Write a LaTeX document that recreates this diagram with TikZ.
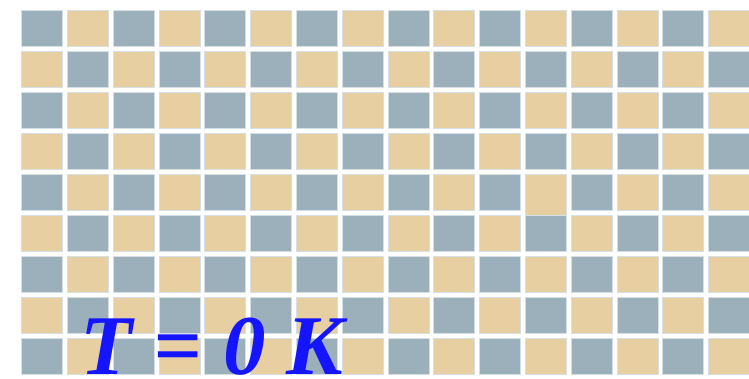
\documentclass[tikz,border=0pt]{standalone}
\usepackage{fontspec}
\setmainfont{Liberation Serif}
\definecolor{tilegray}{HTML}{9CB0BB}
\definecolor{tiletan}{HTML}{E8CFA1}
\definecolor{tileedge}{HTML}{D4E0E6}
\definecolor{tempblue}{HTML}{1414FF}
\usetikzlibrary{positioning}

\begin{document}
\begin{tikzpicture}[x=1pt, y=-1pt, tile/.style={draw=tileedge, line width=0.8pt}]
        \useasboundingbox (0,0) rectangle (749,378);
        \clip (0,0) rectangle (749,378);
        \foreach \r in {0,...,8} {
          \foreach \c in {0,...,15} {
            \pgfmathtruncatemacro{\parity}{mod(\r+\c,2)}
            \ifnum\parity=0
              \filldraw[tile, fill=tilegray] ({21.5+45.8*\c},{10+41*\r}) rectangle ++(41,36);
            \else
              \filldraw[tile, fill=tiletan] ({21.5+45.8*\c},{10+41*\r}) rectangle ++(41,36);
            \fi
          }
        }
        \filldraw[tile, fill=tiletan] ({21.5+45.8*11},174) rectangle ++(41,41);
        \filldraw[tile, fill=tilegray] ({21.5+45.8*11},215) rectangle ++(41,36);
        \node[anchor=base west, inner sep=0pt, text=tempblue, font=\fontsize{85}{90}\selectfont\bfseries\itshape] (temp) at (80,374) {T = 0 K};
      \end{tikzpicture}
\end{document}
